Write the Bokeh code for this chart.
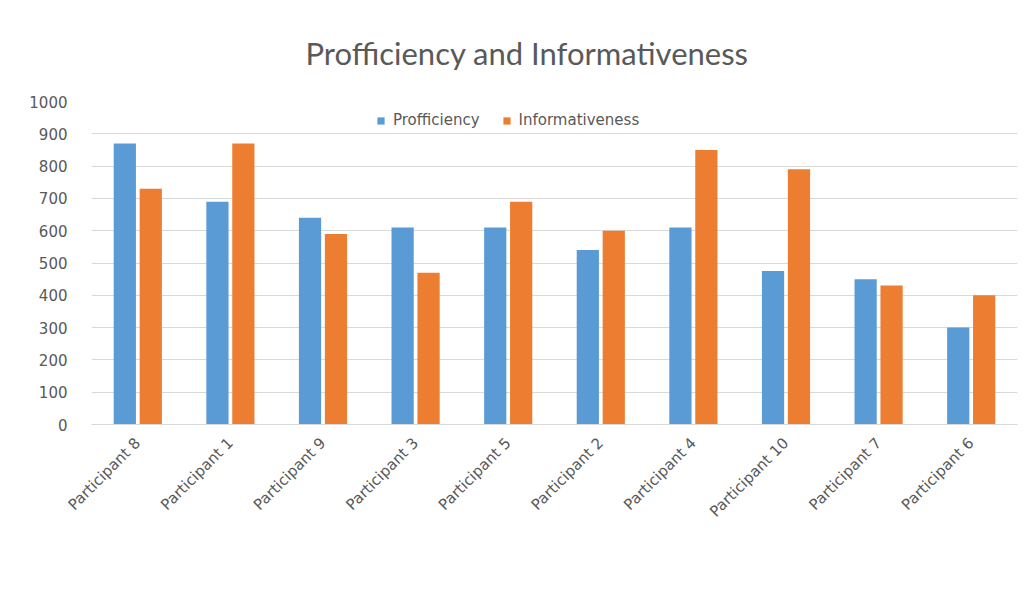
from bokeh.plotting import figure
from bokeh.models import ColumnDataSource, Title, Legend, LegendItem, SingleIntervalTicker
from bokeh.transform import dodge
from bokeh.embed import file_html
from bokeh.resources import INLINE
import math

participants = ["Participant 8", "Participant 1", "Participant 9", "Participant 3", "Participant 5",
                "Participant 2", "Participant 4", "Participant 10", "Participant 7", "Participant 6"]
profficiency = [870, 690, 640, 610, 610, 540, 610, 475, 450, 300]
informativeness = [730, 870, 590, 470, 690, 600, 850, 790, 430, 400]

src = ColumnDataSource(dict(cat=participants, prof=profficiency, info=informativeness))

TXT = "#595959"
GRID = "#D9D9D9"

p = figure(x_range=participants, y_range=(0, 1000), output_backend="svg", toolbar_location=None,
           frame_width=926, frame_height=323, min_border_left=91, min_border_right=10,
           min_border_top=101, min_border_bottom=0, outline_line_color=None)

p.title = Title(text="Profficiency and Informativeness", align="left", offset=214,
                text_font="Lato", text_font_size="31px", text_font_style="normal",
                text_color=TXT, standoff=60)

r1 = p.vbar(x=dodge("cat", -0.14, range=p.x_range), top="prof", width=0.24, source=src,
            fill_color="#5B9BD5", line_color=None)
r2 = p.vbar(x=dodge("cat", 0.14, range=p.x_range), top="info", width=0.24, source=src,
            fill_color="#ED7D31", line_color=None)

p.x_range.range_padding = 0
p.yaxis.ticker = SingleIntervalTicker(interval=100)
p.ygrid.grid_line_color = GRID
p.ygrid.grid_line_width = 1
p.xgrid.grid_line_color = None

p.yaxis.axis_line_color = None
p.yaxis.major_tick_line_color = None
p.yaxis.minor_tick_line_color = None
p.yaxis.major_label_standoff = 18
p.yaxis.major_label_text_font = "DejaVu Sans"
p.yaxis.major_label_text_font_size = "15px"
p.yaxis.major_label_text_color = TXT

p.xaxis.axis_line_color = GRID
p.xaxis.major_tick_line_color = None
p.xaxis.minor_tick_line_color = None
p.xaxis.major_label_orientation = math.pi / 4
p.xaxis.major_label_standoff = 10
p.xaxis.major_label_text_font = "DejaVu Sans"
p.xaxis.major_label_text_font_size = "15px"
p.xaxis.major_label_text_color = TXT

legend = Legend(items=[LegendItem(label="Profficiency", renderers=[r1]),
                       LegendItem(label="Informativeness", renderers=[r2])],
                orientation="horizontal", location=(285, 295),
                label_text_font="DejaVu Sans", label_text_font_size="15px",
                label_text_color=TXT, glyph_width=9, glyph_height=9,
                spacing=22, label_standoff=8, border_line_color=None,
                background_fill_alpha=0, margin=0, padding=4)
p.add_layout(legend, "center")

open("out.html", "w").write(file_html(p, INLINE))
